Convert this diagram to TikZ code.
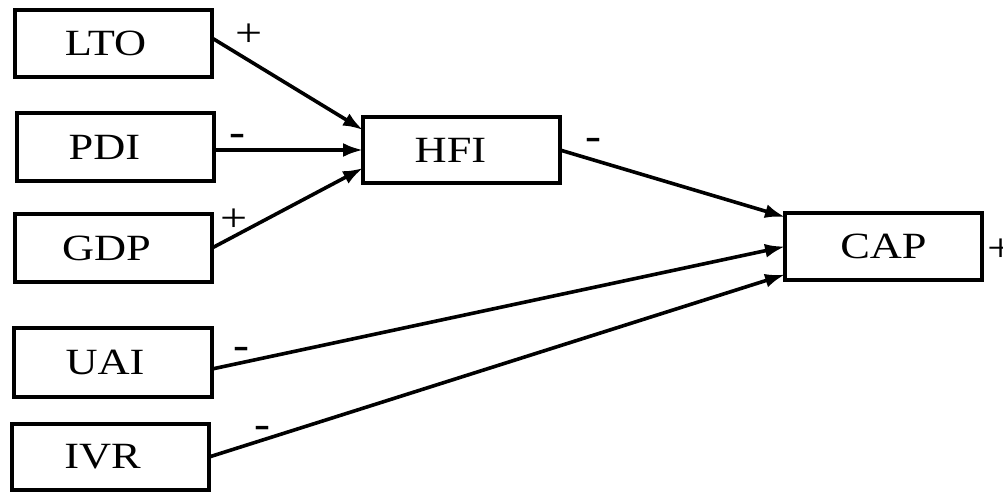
\documentclass[tikz,border=0pt]{standalone}
\usepackage{fontspec}
\setmainfont[FakeStretch=1.2]{Liberation Serif}
\usetikzlibrary{arrows.meta}
\begin{document}
\begin{tikzpicture}[x=1pt,y=-1pt,
  box/.style={draw,line width=3.6pt,inner sep=0pt,outer sep=0pt,minimum width=197pt,minimum height=67pt,font=\fontsize{37}{40}\selectfont},
  link/.style={line width=3.6pt,-{Latex[length=20pt,width=14pt]}},
  sign/.style={inner sep=0pt,font=\fontsize{40}{42}\selectfont},
  minus/.style={sign,font=\fontsize{40}{42}\selectfont\bfseries}]
\useasboundingbox (0,0) rectangle (1003,492);
\node[box] (LTO) at (113.5,43.5) {LTO\kern16pt};
\node[box,minimum height=68pt] (PDI) at (115.5,147) {PDI\kern22pt};
\node[box,minimum height=68pt] (GDP) at (113.5,248) {GDP\kern14pt};
\node[box,minimum height=66pt] (HFI) at (461.5,150) {HFI\kern22pt};
\node[box,minimum width=198pt,minimum height=69pt] (UAI) at (113,362.5) {UAI\kern16pt};
\node[box,minimum height=66pt] (IVR) at (110.5,457) {IVR\kern16pt};
\node[box] (CAP) at (883.5,246.5) {CAP};
\draw[link] ([yshift=5.5pt]LTO.east) -- ([yshift=20pt]HFI.west);
\draw[link] (PDI.east |- HFI.west) -- (HFI.west);
\draw[link] (GDP.east) -- ([yshift=-18pt]HFI.west);
\draw[link] (HFI.east) -- ([yshift=29.5pt]CAP.west);
\draw[link] ([yshift=-6.5pt]UAI.east) -- (CAP.west);
\draw[link] (IVR.east) -- ([yshift=-28pt]CAP.west);
\node[sign] (s1) at (249,35) {+};
\node[minus] (s2) at (237,140) {-};
\node[sign] (s3) at (234,220) {+};
\node[minus] (s4) at (593,144) {-};
\node[minus] (s5) at (241,353) {-};
\node[minus] (s6) at (262,432) {-};
\node[sign] (s7) at (1001,250) {+};
\end{tikzpicture}
\end{document}
